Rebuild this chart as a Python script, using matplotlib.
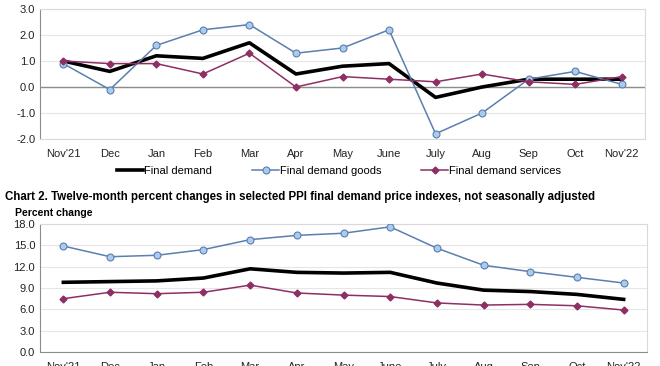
"""
PPI final demand charts: monthly and twelve-month percent changes.
"""

import matplotlib.pyplot as plt

months = ["Nov'21", "Dec", "Jan", "Feb", "Mar", "Apr", "May", "June",
          "July", "Aug", "Sep", "Oct", "Nov'22"]

# Chart 1: one-month percent changes
m_final = [1.0, 0.6, 1.2, 1.1, 1.7, 0.5, 0.8, 0.9, -0.4, 0.0, 0.3, 0.3, 0.3]
m_goods = [0.9, -0.1, 1.6, 2.2, 2.4, 1.3, 1.5, 2.2, -1.8, -1.0, 0.3, 0.6, 0.1]
m_services = [1.0, 0.9, 0.9, 0.5, 1.3, 0.0, 0.4, 0.3, 0.2, 0.5, 0.2, 0.1, 0.4]

# Chart 2: twelve-month percent changes
y_final = [9.8, 9.9, 10.0, 10.4, 11.7, 11.2, 11.1, 11.2, 9.7, 8.7, 8.5, 8.1, 7.4]
y_goods = [14.9, 13.4, 13.6, 14.4, 15.8, 16.4, 16.7, 17.6, 14.6, 12.2, 11.3, 10.5, 9.7]
y_services = [7.5, 8.4, 8.2, 8.4, 9.4, 8.3, 8.0, 7.8, 6.9, 6.6, 6.7, 6.5, 5.9]

plt.rcParams['font.family'] = ['Liberation Sans', 'DejaVu Sans']

BLUE_LINE = '#5b7fae'
BLUE_FACE = '#a9cbed'
PURPLE = '#8e2f63'
GRID = '#e6e6e6'


def draw_lines(ax, final, goods, services):
    x = range(len(months))
    ax.plot(x, final, color='black', lw=2.6, label='Final demand', zorder=3)
    ax.plot(x, goods, color=BLUE_LINE, lw=1.1, marker='o', ms=5,
            mfc=BLUE_FACE, mec=BLUE_LINE, mew=0.8,
            label='Final demand goods', zorder=4)
    ax.plot(x, services, color=PURPLE, lw=1.1, marker='D', ms=3.5,
            mfc=PURPLE, mec=PURPLE, label='Final demand services', zorder=5)
    ax.set_xlim(-0.5, len(months) - 0.5)
    ax.set_xticks(list(x))
    ax.set_xticklabels(months, fontsize=8)
    ax.tick_params(axis='both', length=0, labelsize=8, colors='#222222')
    ax.tick_params(axis='x', pad=7)
    ax.yaxis.grid(True, color=GRID, lw=0.8)
    ax.set_axisbelow(True)
    for side in ['top', 'right', 'bottom']:
        ax.spines[side].set_color('#d9d9d9')
    ax.spines['left'].set_color('#8c8c8c')


fig = plt.figure(figsize=(6.6, 3.66), dpi=100)

ax1 = fig.add_axes([40 / 660, 1 - 139 / 366, 605 / 660, 130 / 366])
draw_lines(ax1, m_final, m_goods, m_services)
ax1.set_ylim(-2.0, 3.0)
ax1.set_yticks([-2, -1, 0, 1, 2, 3])
ax1.set_yticklabels([f'{v:.1f}' for v in [-2, -1, 0, 1, 2, 3]])
ax1.axhline(0, color='#8c8c8c', lw=1.0, zorder=2)
ax1.legend(loc='upper center', bbox_to_anchor=(0.494, -0.17), ncol=3,
           frameon=False, fontsize=8, handlelength=2.4, handletextpad=0.1,
           columnspacing=3.6, borderaxespad=0)

fig.text(5 / 660, 1 - 197 / 366,
         'Chart 2. Twelve-month percent changes in selected PPI final demand '
         'price indexes, not seasonally adjusted',
         fontsize=8.3, fontweight='bold', va='center')
fig.text(15 / 660, 1 - 213 / 366, 'Percent change', fontsize=7.5,
         fontweight='bold', va='center')

ax2 = fig.add_axes([40 / 660, 1 - 352 / 366, 607 / 660, 128 / 366])
draw_lines(ax2, y_final, y_goods, y_services)
ax2.set_ylim(0, 18)
ax2.set_yticks([0, 3, 6, 9, 12, 15, 18])
ax2.set_yticklabels([f'{v:.1f}' for v in [0, 3, 6, 9, 12, 15, 18]])
ax2.spines['bottom'].set_color('#8c8c8c')

fig.savefig('out.png', dpi=100)
